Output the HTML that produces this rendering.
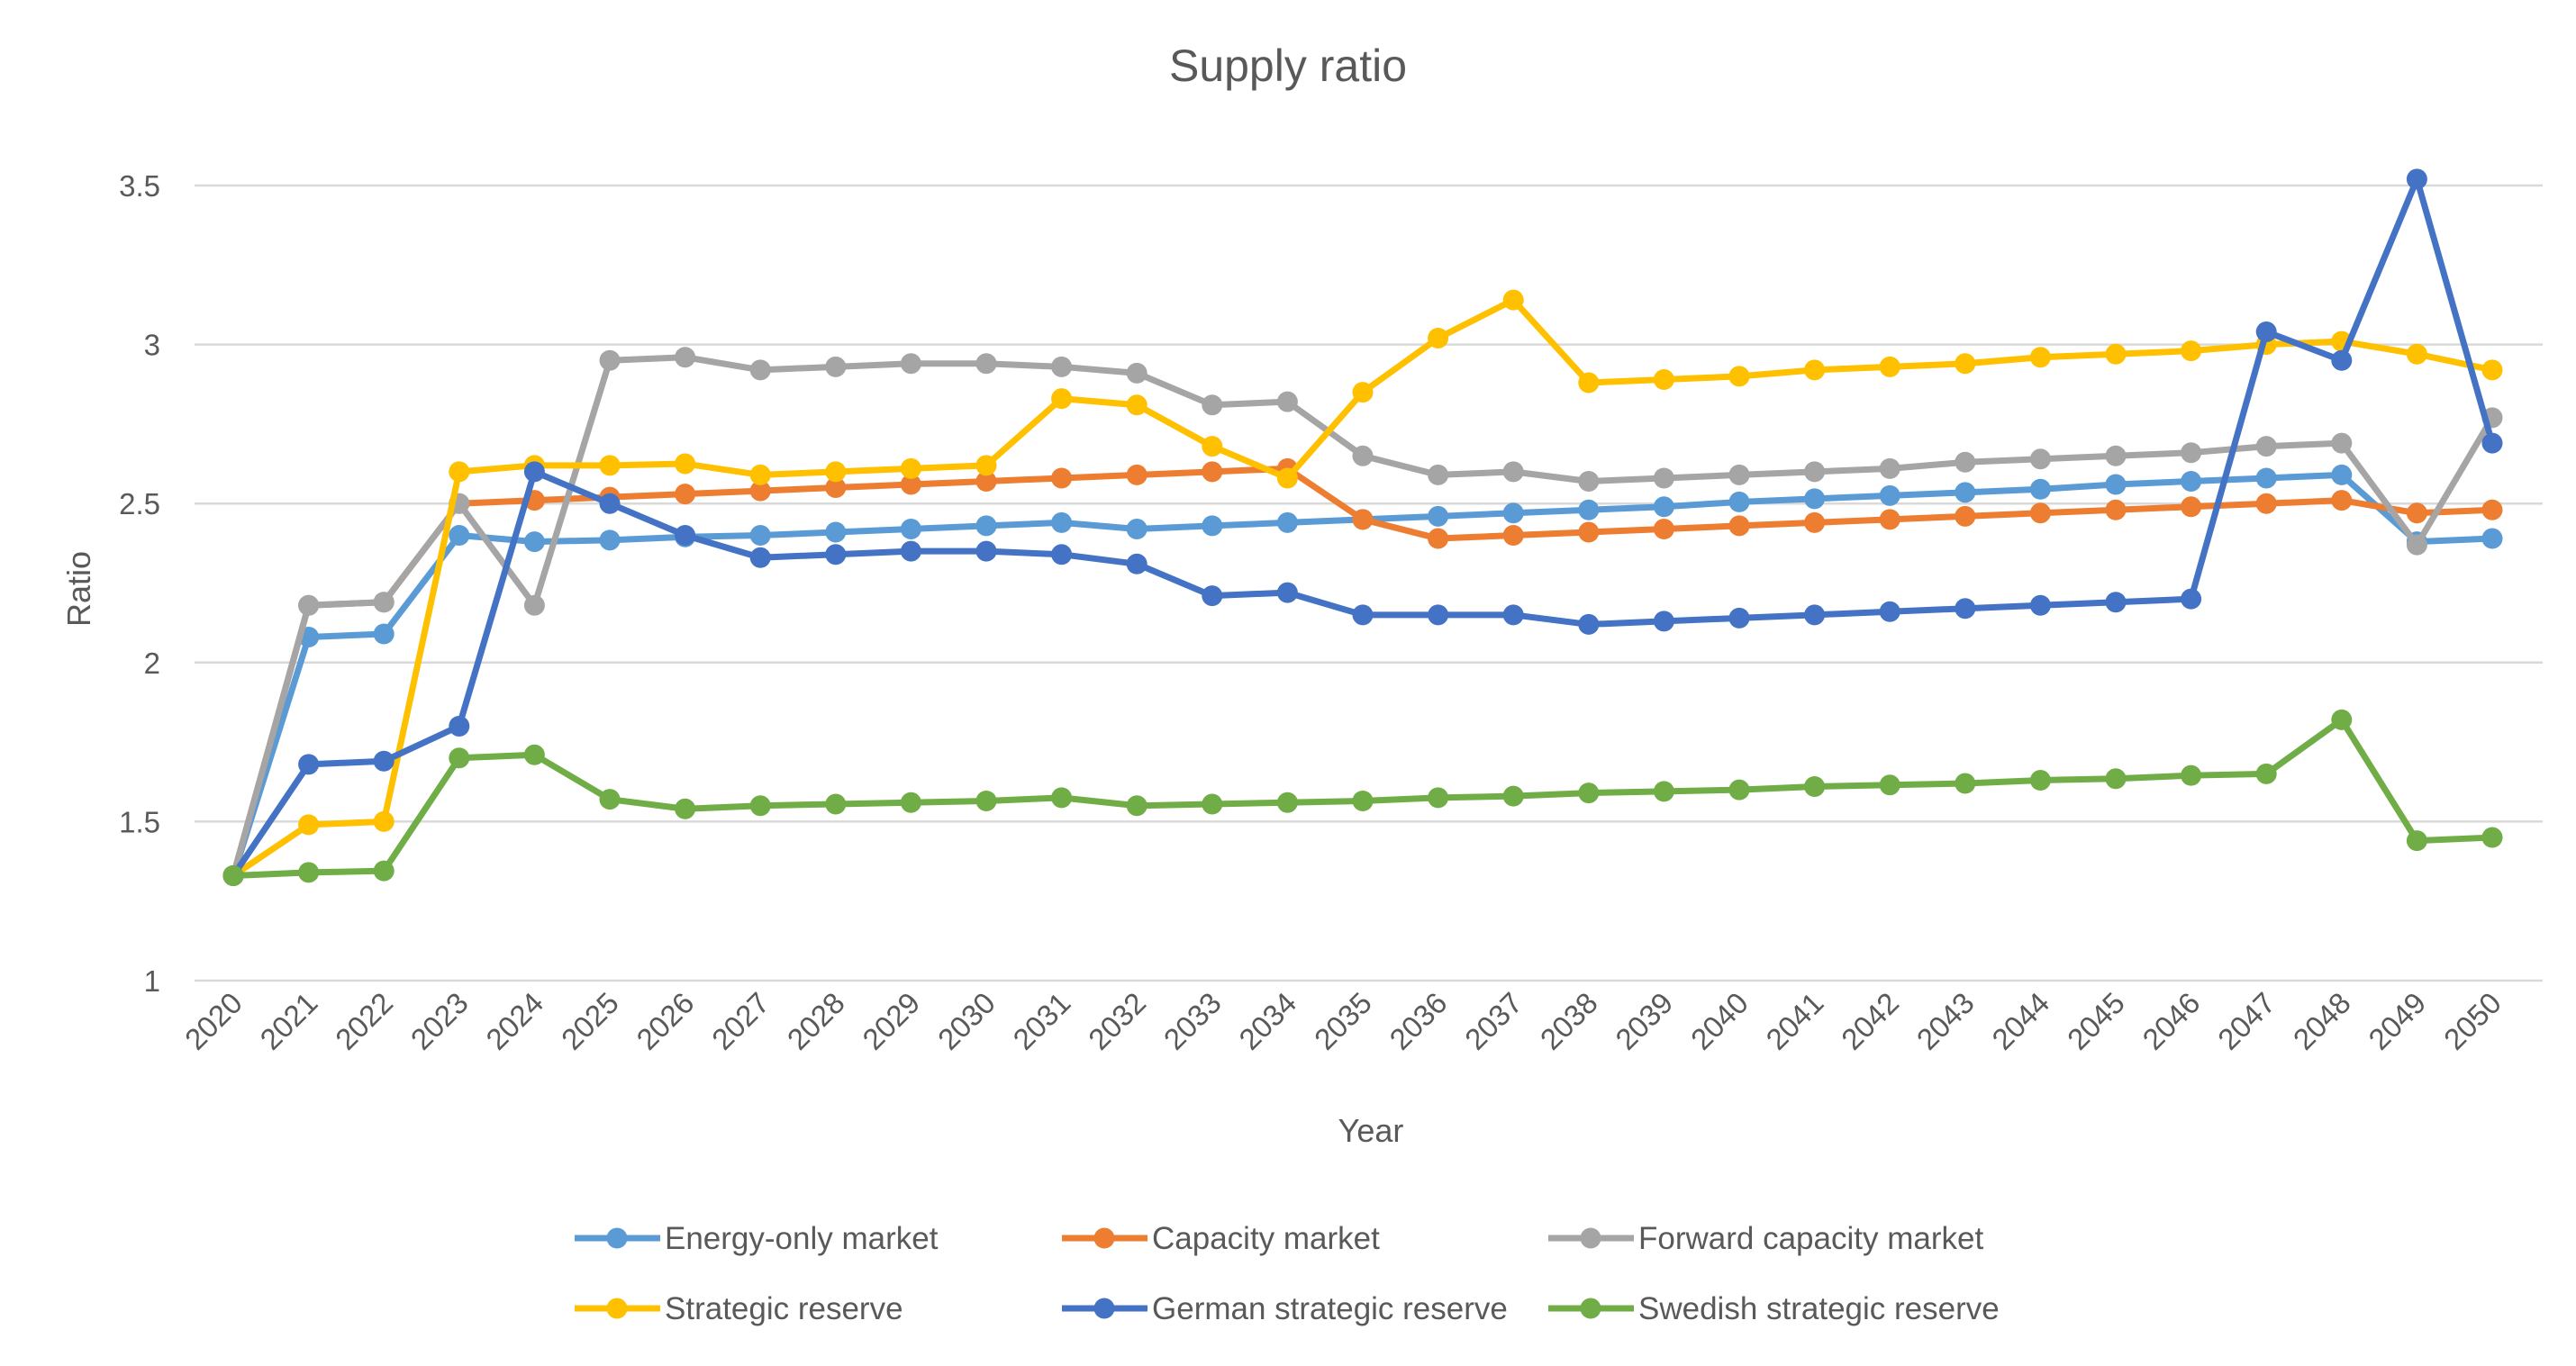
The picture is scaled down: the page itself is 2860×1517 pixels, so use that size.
<!DOCTYPE html>
<html><head><meta charset="utf-8"><style>
html,body{margin:0;padding:0;background:#fff}
svg text{font-family:"Liberation Sans",sans-serif;fill:#595959}
</style></head><body>
<svg id="chart" width="2860" height="1512" xmlns="http://www.w3.org/2000/svg">
<text x="1430" y="90" text-anchor="middle" font-size="50">Supply ratio</text>
<text transform="translate(100,654) rotate(-90)" text-anchor="middle" font-size="36">Ratio</text>
<text x="1522" y="1268" text-anchor="middle" font-size="36">Year</text>
<g id="grid"></g><g id="xt"></g><g id="series"></g><g id="legend"></g>
</svg>
<script>
const years=[];for(let y=2020;y<=2050;y++)years.push(y);
const yTicks=[1,1.5,2,2.5,3,3.5];
const seriesNames=["Energy-only market","Capacity market","Forward capacity market","Strategic reserve","German strategic reserve","Swedish strategic reserve"];
const energyOnly=[1.33,2.08,2.09,2.40,2.38,2.385,2.395,2.40,2.41,2.42,2.43,2.44,2.42,2.43,2.44,2.45,2.46,2.47,2.48,2.49,2.505,2.515,2.525,2.535,2.545,2.56,2.57,2.58,2.59,2.38,2.39];
const capacity=[1.33,2.18,2.19,2.50,2.51,2.52,2.53,2.54,2.55,2.56,2.57,2.58,2.59,2.60,2.61,2.45,2.39,2.40,2.41,2.42,2.43,2.44,2.45,2.46,2.47,2.48,2.49,2.50,2.51,2.47,2.48];
const forward=[1.33,2.18,2.19,2.50,2.18,2.95,2.96,2.92,2.93,2.94,2.94,2.93,2.91,2.81,2.82,2.65,2.59,2.60,2.57,2.58,2.59,2.60,2.61,2.63,2.64,2.65,2.66,2.68,2.69,2.37,2.77];
const strategic=[1.33,1.49,1.50,2.60,2.62,2.62,2.625,2.59,2.60,2.61,2.62,2.83,2.81,2.68,2.58,2.85,3.02,3.14,2.88,2.89,2.90,2.92,2.93,2.94,2.96,2.97,2.98,3.00,3.01,2.97,2.92];
const german=[1.33,1.68,1.69,1.80,2.60,2.50,2.40,2.33,2.34,2.35,2.35,2.34,2.31,2.21,2.22,2.15,2.15,2.15,2.12,2.13,2.14,2.15,2.16,2.17,2.18,2.19,2.20,3.04,2.95,3.52,2.69];
const swedish=[1.33,1.34,1.345,1.70,1.71,1.57,1.54,1.55,1.555,1.56,1.565,1.575,1.55,1.555,1.56,1.565,1.575,1.58,1.59,1.595,1.60,1.61,1.615,1.62,1.63,1.635,1.645,1.65,1.82,1.44,1.45];
const allSeries=[energyOnly,capacity,forward,strategic,german,swedish];
const colors=["#5B9BD5","#ED7D31","#A5A5A5","#FFC000","#4472C4","#70AD47"];
const NS="http://www.w3.org/2000/svg";
const X=i=>259+(2767-259)*i/(years.length-1);
const Y=v=>1089-(v-1)*(1089-206)/2.5;
function mk(t,a,p){const e=document.createElementNS(NS,t);for(const k in a)e.setAttribute(k,a[k]);p.appendChild(e);return e;}
const grid=document.getElementById('grid');
yTicks.forEach(t=>{
 const l=mk('line',{x1:216,x2:2823,y1:Y(t),y2:Y(t),stroke:'#d9d9d9','stroke-width':2.5},grid);
 
 
 const tx=mk('text',{x:178,y:Y(t)+12,'text-anchor':'end','font-size':33},grid);tx.textContent=t;
 
 
});
const xt=document.getElementById('xt');
years.forEach((yr,i)=>{
 const tx=mk('text',{transform:`translate(${X(i)+12},${1116}) rotate(-45)`,'text-anchor':'end','font-size':33},xt);tx.textContent=yr;
 
 
});
const sg=document.getElementById('series');
allSeries.forEach((s,k)=>{
 const g=mk('g',{},sg);
 
 
 mk('polyline',{points:s.map((v,i)=>X(i)+','+Y(v)).join(' '),fill:'none',stroke:colors[k],'stroke-width':7,'stroke-linejoin':'round'},g);
 s.forEach((v,i)=>{const c=mk('circle',{cx:X(i),cy:Y(v),r:11.5,fill:colors[k]},g);
  
  });
});
const lg=document.getElementById('legend');
const lx=[638,1179,1719],ly=[1375,1453];
seriesNames.forEach((n,k)=>{
 const x=lx[k%3],y=ly[Math.floor(k/3)];
 const g=mk('g',{},lg);
 
 
 mk('line',{x1:x,x2:x+95,y1:y,y2:y,stroke:colors[k],'stroke-width':7},g);
 mk('circle',{cx:x+47,cy:y,r:11.5,fill:colors[k]},g);
 const t=mk('text',{x:x+100,y:y+12,'font-size':35},g);t.textContent=n;
});
</script>
</body></html>
